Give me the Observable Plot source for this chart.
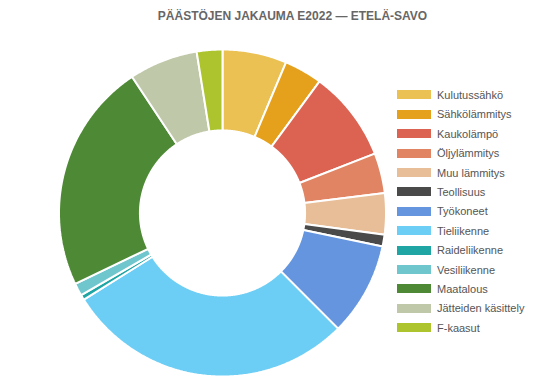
<!DOCTYPE html>
<html><head><meta charset="utf-8">
<script src="https://cdn.jsdelivr.net/npm/d3@7"></script>
<script src="https://cdn.jsdelivr.net/npm/@observablehq/plot@0.6"></script>
<style>
body{margin:0;background:#fff;font-family:"Liberation Sans",Arial,sans-serif;}
#wrap{position:relative;width:545px;height:392px;overflow:hidden;background:#fff;}
#title{position:absolute;left:40px;right:0;top:0;height:32px;line-height:32px;text-align:center;font-weight:bold;font-size:12px;color:#666;white-space:nowrap;}
#chart{position:absolute;left:0;top:32px;}
#legend{position:absolute;left:397px;top:85.3px;}
.item{display:flex;align-items:center;height:19.4px;font-size:11px;color:#555;white-space:nowrap;}
.sw{width:34px;height:9px;margin-right:6px;flex:none;}
</style>
</head><body>
<div id="wrap">
  <div id="title">PÄÄSTÖJEN JAKAUMA E2022 — ETELÄ-SAVO</div>
  <div id="chart"></div>
  <div id="legend"></div>
</div>
<script>
const categories = ["Kulutussähkö","Sähkölämmitys","Kaukolämpö","Öljylämmitys","Muu lämmitys","Teollisuus","Työkoneet","Tieliikenne","Raideliikenne","Vesiliikenne","Maatalous","Jätteiden käsittely","F-kaasut"];
const values = [6.35, 3.76, 8.97, 3.97, 4.06, 1.17, 9.22, 28.6, 0.5, 1.25, 22.8, 6.8, 2.53];
const colors = ["#EAC152","#E6A11C","#DC6252","#E08463","#E7BE98","#4A4A4A","#6495DE","#6DCEF5","#20A5A5","#70C6CD","#4E8A35","#C0C8AA","#ADC42E"];

const data = categories.map((c, i) => ({cat: c, value: values[i]}));
const arcs = d3.pie().sort(null).value(d => d.value)(data);
const rOuter = 1, rInner = 0.505;
const pts = [];
for (const a of arcs) {
  const n = Math.max(2, Math.ceil((a.endAngle - a.startAngle) / (Math.PI / 360)));
  for (let k = 0; k <= n; k++) {
    const t = a.startAngle + (a.endAngle - a.startAngle) * k / n;
    pts.push({cat: a.data.cat, x: rOuter * Math.sin(t), y: rOuter * Math.cos(t)});
  }
  for (let k = n; k >= 0; k--) {
    const t = a.startAngle + (a.endAngle - a.startAngle) * k / n;
    pts.push({cat: a.data.cat, x: rInner * Math.sin(t), y: rInner * Math.cos(t)});
  }
}

const W = 545, H = 360, R = 163.5, cx = 222, cy = 180.5;
const chart = Plot.plot({
  width: W, height: H, margin: 0,
  x: {domain: [-cx / R, (W - cx) / R], axis: null},
  y: {domain: [-(H - cy) / R, cy / R], axis: null},
  color: {domain: categories, range: colors},
  marks: [
    Plot.line(pts, {x: "x", y: "y", z: "cat", fill: "cat", stroke: "white", strokeWidth: 2, curve: "linear-closed", strokeLinejoin: "miter"})
  ]
});
document.getElementById("chart").appendChild(chart);

const legend = document.getElementById("legend");
categories.forEach((c, i) => {
  const item = document.createElement("div");
  item.className = "item";
  const sw = document.createElement("span");
  sw.className = "sw";
  sw.style.background = colors[i];
  const tx = document.createElement("span");
  tx.textContent = c;
  item.appendChild(sw); item.appendChild(tx);
  legend.appendChild(item);
});
</script>
</body></html>
